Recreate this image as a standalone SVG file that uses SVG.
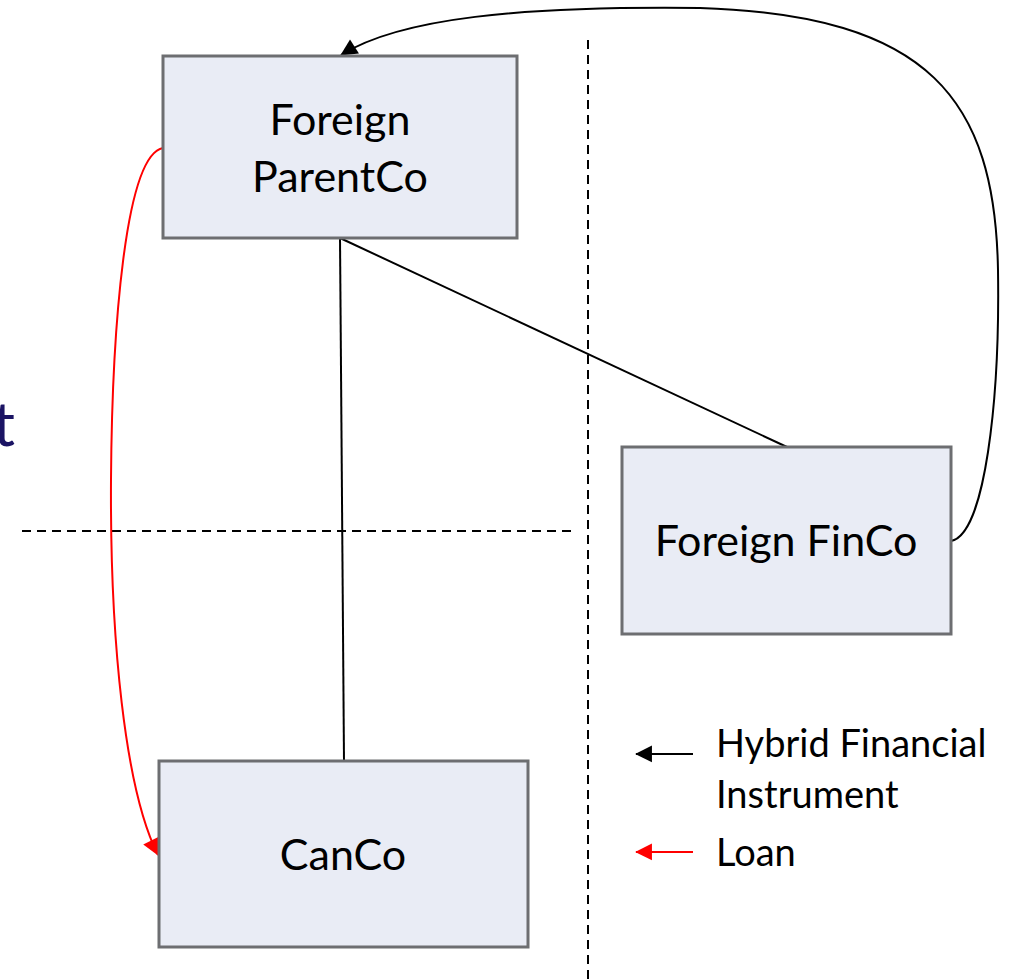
<svg xmlns="http://www.w3.org/2000/svg" width="1010" height="980" viewBox="0 0 1010 980">
  <style>
    .box { fill: #e9ecf5; stroke: #6d6e71; stroke-width: 3; }
    .label { font-family: Lato, "Open Sans", sans-serif; font-size: 43px; fill: #000; text-anchor: middle; }
    .legend { font-family: Lato, "Open Sans", sans-serif; font-size: 38px; fill: #000; }
    .divider { stroke: #000; stroke-width: 2; stroke-dasharray: 9 6; fill: none; }
    .tie { stroke: #000; stroke-width: 2; fill: none; }
    .hybrid { stroke: #000; stroke-width: 2; fill: none; marker-end: url(#arrowBlack); }
    .loan { stroke: #ff0000; stroke-width: 2; fill: none; marker-end: url(#arrowRed); }
  </style>
  <defs>
    <marker id="arrowBlack" viewBox="0 0 10 10" refX="9" refY="5" markerWidth="8" markerHeight="8" markerUnits="userSpaceOnUse" orient="auto" style="overflow:visible">
      <path d="M0,0 L10,5 L0,10 z" fill="#000" transform="scale(2.1) translate(-5.2,-2.6)"/>
    </marker>
    <marker id="arrowRed" viewBox="0 0 10 10" refX="9" refY="5" markerWidth="8" markerHeight="8" markerUnits="userSpaceOnUse" orient="auto" style="overflow:visible">
      <path d="M0,0 L10,5 L0,10 z" fill="#ff0000" transform="scale(2.1) translate(-5.2,-2.6)"/>
    </marker>
  </defs>

  <!-- partial heading at the left edge -->
  <text x="15" y="446" font-family="Lato, 'Open Sans', sans-serif" font-size="62" fill="#1b1464" text-anchor="end">t</text>

  <!-- jurisdiction dividers -->
  <g id="dividers">
    <line class="divider" x1="588" y1="40" x2="588" y2="980"/>
    <line class="divider" x1="22" y1="531" x2="575" y2="531"/>
  </g>

  <!-- connectors -->
  <g id="connectors">
    <line class="tie" x1="340" y1="238" x2="344" y2="761"/>
    <line class="tie" x1="340" y1="238" x2="787" y2="447"/>
    <path class="hybrid" d="M951,541 C985,535 1000,400 998,270 C995,100 930,15 700,8 C520,6 400,18 341,55"/>
    <path class="loan" d="M163,148 C125,155 112,330 111,480 C110,640 125,790 158,855"/>
  </g>

  <g id="node-parentco">
    <rect class="box" x="163" y="56" width="354" height="182"/>
    <text class="label" x="340" y="135">Foreign</text>
    <text class="label" x="340" y="192">ParentCo</text>
  </g>

  <g id="node-finco">
    <rect class="box" x="622" y="447" width="329" height="187"/>
    <text class="label" x="786" y="556">Foreign FinCo</text>
  </g>

  <g id="node-canco">
    <rect class="box" x="159" y="761" width="369" height="186"/>
    <text class="label" x="343" y="870">CanCo</text>
  </g>

  <!-- legend -->
  <g id="legend">
    <line class="hybrid" x1="693" y1="754" x2="636" y2="754"/>
    <line class="loan" x1="693" y1="852" x2="636" y2="852"/>
    <text class="legend" x="716" y="757">Hybrid Financial</text>
    <text class="legend" x="716" y="808">Instrument</text>
    <text class="legend" x="716" y="866">Loan</text>
  </g>
</svg>
